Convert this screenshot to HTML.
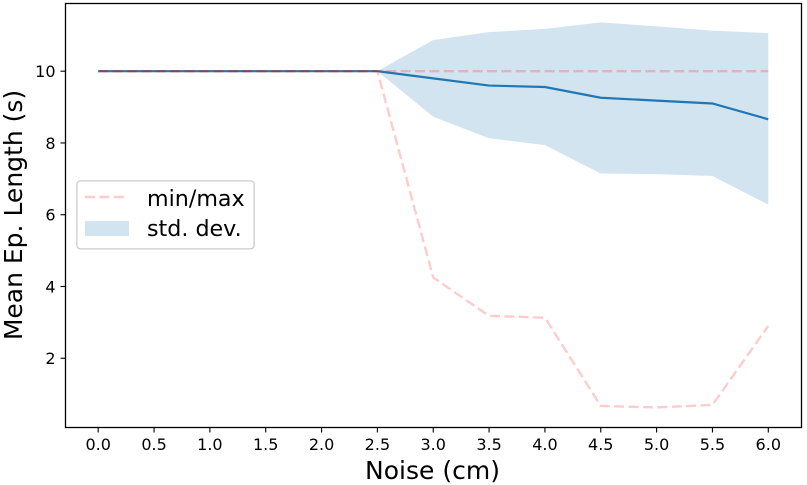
<!DOCTYPE html>
<html>
<head>
<meta charset="utf-8">
<style>
html,body{margin:0;padding:0;background:#fff;width:807px;height:485px;overflow:hidden}
svg{display:block;font-family:"DejaVu Sans","Liberation Sans",sans-serif}
</style>
</head>
<body>
<svg id="chart" width="807" height="485" viewBox="0 0 807 485" xmlns="http://www.w3.org/2000/svg">
<rect x="0" y="0" width="807" height="485" fill="#fff"/>
<g id="marks"></g>
<g id="axes"></g>
<rect x="65.5" y="3.5" width="736" height="424" fill="none" stroke="#000" stroke-width="1.3"/>
<text x="432.5" y="479" font-size="25" text-anchor="middle" fill="#000">Noise (cm)</text>
<text transform="translate(22,215) rotate(-90)" font-size="25" text-anchor="middle" fill="#000">Mean Ep. Length (s)</text>
<g>
<rect x="76.9" y="180.9" width="177.2" height="68" rx="3.5" fill="#fff" fill-opacity="0.8" stroke="#cccccc" stroke-width="1.3"/>
<line x1="85" y1="197" x2="126" y2="197" stroke="#ff0000" stroke-opacity="0.2" stroke-width="2.6" stroke-dasharray="10,4.4"/>
<text x="147" y="206" font-size="22.2" fill="#000">min/max</text>
<rect x="85" y="221" width="44" height="15" fill="#1f77b4" fill-opacity="0.2"/>
<text x="147" y="236" font-size="22.2" fill="#000">std. dev.</text>
</g>
</svg>
<script>
const noiseLevels = [0, 0.5, 1, 1.5, 2, 2.5, 3, 3.5, 4, 4.5, 5, 5.5, 6];
const meanValues = [10, 10, 10, 10, 10, 10, 9.8, 9.6, 9.56, 9.26, 9.18, 9.1, 8.66];
const stdUpper = [10, 10, 10, 10, 10, 10, 10.87, 11.09, 11.18, 11.36, 11.25, 11.13, 11.06];
const stdLower = [10, 10, 10, 10, 10, 10, 8.73, 8.13, 7.94, 7.15, 7.13, 7.08, 6.28];
const minValues = [10, 10, 10, 10, 10, 10, 4.25, 3.18, 3.13, 0.67, 0.63, 0.7, 2.9];
const maxValues = [10, 10, 10, 10, 10, 10, 10, 10, 10, 10, 10, 10, 10];
const xTickValues = [0, 0.5, 1, 1.5, 2, 2.5, 3, 3.5, 4, 4.5, 5, 5.5, 6];
const yTickValues = [2, 4, 6, 8, 10];

const NS = 'http://www.w3.org/2000/svg';
const xScale = function (v) { return 98.2 + v * 111.68; };
const yScale = function (v) { return 71.2 + (10 - v) * 35.88; };
const marks = document.getElementById('marks');
const axes = document.getElementById('axes');

function pointsOf(xs, ys) {
  return xs.map(function (x, i) { return xScale(x).toFixed(2) + ',' + yScale(ys[i]).toFixed(2); });
}

const band = document.createElementNS(NS, 'polygon');


band.setAttribute('points', pointsOf(noiseLevels, stdUpper).concat(pointsOf(noiseLevels, stdLower).reverse()).join(' '));
band.setAttribute('fill', '#1f77b4');
band.setAttribute('fill-opacity', '0.2');
marks.appendChild(band);

const meanLine = document.createElementNS(NS, 'polyline');


meanLine.setAttribute('points', pointsOf(noiseLevels, meanValues).join(' '));
meanLine.setAttribute('fill', 'none');
meanLine.setAttribute('stroke', '#1f77b4');
meanLine.setAttribute('stroke-width', '2.2');
marks.appendChild(meanLine);

const minLine = document.createElementNS(NS, 'polyline');


minLine.setAttribute('points', pointsOf(noiseLevels, minValues).join(' '));
minLine.setAttribute('fill', 'none');
minLine.setAttribute('stroke', '#ff0000');
minLine.setAttribute('stroke-opacity', '0.2');
minLine.setAttribute('stroke-width', '2.4');
minLine.setAttribute('stroke-dasharray', '10,4.4');
marks.appendChild(minLine);

const maxLine = document.createElementNS(NS, 'polyline');


maxLine.setAttribute('points', pointsOf(noiseLevels, maxValues).join(' '));
maxLine.setAttribute('fill', 'none');
maxLine.setAttribute('stroke', '#ff0000');
maxLine.setAttribute('stroke-opacity', '0.2');
maxLine.setAttribute('stroke-width', '2.4');
maxLine.setAttribute('stroke-dasharray', '10,4.4');
marks.appendChild(maxLine);

xTickValues.forEach(function (v) {
  const px = xScale(v);
  const tick = document.createElementNS(NS, 'line');
  
  
  tick.setAttribute('x1', px);
  tick.setAttribute('x2', px);
  tick.setAttribute('y1', 427.5);
  tick.setAttribute('y2', 432.5);
  tick.setAttribute('stroke', '#000');
  tick.setAttribute('stroke-width', '1.1');
  axes.appendChild(tick);
  const label = document.createElementNS(NS, 'text');
  
  
  label.setAttribute('x', px);
  label.setAttribute('y', 450);
  label.setAttribute('font-size', '16');
  label.setAttribute('text-anchor', 'middle');
  label.setAttribute('fill', '#000');
  label.textContent = v.toFixed(1);
  axes.appendChild(label);
});

yTickValues.forEach(function (v) {
  const py = yScale(v);
  const tick = document.createElementNS(NS, 'line');
  
  
  tick.setAttribute('x1', 60.5);
  tick.setAttribute('x2', 65.5);
  tick.setAttribute('y1', py);
  tick.setAttribute('y2', py);
  tick.setAttribute('stroke', '#000');
  tick.setAttribute('stroke-width', '1.1');
  axes.appendChild(tick);
  const label = document.createElementNS(NS, 'text');
  
  
  label.setAttribute('x', 55.5);
  label.setAttribute('y', py + 5.8);
  label.setAttribute('font-size', '16');
  label.setAttribute('text-anchor', 'end');
  label.setAttribute('fill', '#000');
  label.textContent = String(v);
  axes.appendChild(label);
});
</script>
</body>
</html>
